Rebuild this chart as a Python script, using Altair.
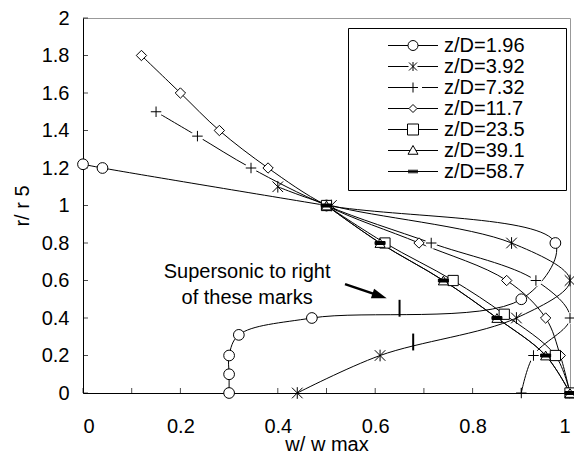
import altair as alt
import pandas as pd

# Radial profiles of axial velocity at several downstream stations
series = ["z/D=1.96", "z/D=3.92", "z/D=7.32", "z/D=11.7", "z/D=23.5", "z/D=39.1", "z/D=58.7"]

w_196 = [0.30, 0.30, 0.30, 0.32, 0.47, 0.90, 0.97, 0.50, 0.04, 0.00]
r_196 = [0.00, 0.10, 0.20, 0.31, 0.40, 0.50, 0.80, 1.00, 1.20, 1.22]

w_392 = [0.44, 0.61, 0.89, 1.00, 0.88, 0.51, 0.40]
r_392 = [0.00, 0.20, 0.40, 0.60, 0.80, 1.00, 1.10]

w_732 = [0.90, 0.925, 1.00, 0.93, 0.715, 0.50, 0.345, 0.235, 0.15]
r_732 = [0.00, 0.20, 0.40, 0.60, 0.80, 1.00, 1.20, 1.37, 1.50]

w_117 = [1.00, 0.98, 0.95, 0.87, 0.69, 0.50, 0.38, 0.28, 0.20, 0.12]
r_117 = [0.00, 0.20, 0.40, 0.60, 0.80, 1.00, 1.20, 1.40, 1.60, 1.80]

w_235 = [1.00, 0.97, 0.865, 0.76, 0.62, 0.50]
r_235 = [0.00, 0.20, 0.42, 0.60, 0.80, 1.00]

w_391 = [1.00, 0.95, 0.85, 0.74, 0.61, 0.50]
r_391 = [0.00, 0.20, 0.40, 0.60, 0.80, 1.00]

w_587 = [1.00, 0.95, 0.85, 0.74, 0.61, 0.50]
r_587 = [0.00, 0.20, 0.40, 0.60, 0.80, 1.00]

# Sonic-line marks on the two innermost profiles
sonic_w = [0.65, 0.678]
sonic_r_lo = [0.407, 0.227]
sonic_r_hi = [0.497, 0.317]

# Annotation and its arrow
note_lines = ["Supersonic to right", "of these marks"]
note_w = [0.337, 0.337]
note_r = [0.645, 0.507]
arrow_w = [0.538, 0.608]
arrow_r = [0.581, 0.519]
arrow_tip_w = [0.6236]
arrow_tip_r = [0.505]

x_ticks = [round(i * 0.1, 1) for i in range(11)]
x_labels = [round(i * 0.2, 1) for i in range(6)]
y_ticks = [round(i * 0.2, 1) for i in range(11)]

all_w = [w_196, w_392, w_732, w_117, w_235, w_391, w_587]
all_r = [r_196, r_392, r_732, r_117, r_235, r_391, r_587]

rows = []
for name, ws, rs in zip(series, all_w, all_r):
    for i, (w, r) in enumerate(zip(ws, rs)):
        rows.append({"series": name, "idx": i, "w": w, "r": r})
profiles = pd.DataFrame(rows)

FONT = "Liberation Sans"
W, H = 487, 375

xs = alt.Scale(domain=[0, 1], nice=False, zero=False)
ys = alt.Scale(domain=[0, 2], nice=False, zero=False)

# marker shapes
asterisk = "M-1,-1L1,1M-1,1L1,-1M0,-1.1V1.1"
plus = "M-1,0H1M0,-1V1"
dash = "M-1,-0.3H1V0.3H-1Z"
marker_shapes = ["circle", asterisk, plus, "diamond", "square", "triangle-up", dash]
marker_sizes = [115, 100, 110, 64, 144, 110, 110]
marker_fills = ["white", "white", "white", "white", "white", "white", "black"]

# legend glyphs: a short line with the marker in the middle
legend_glyphs = [
    "M-5,0H-1M1,0H5M-1,0A1,1,0,1,0,1,0A1,1,0,1,0,-1,0",
    "M-5,0H-0.9M0.9,0H5M-0.8,-0.8L0.8,0.8M-0.8,0.8L0.8,-0.8M0,-0.9V0.9",
    "M-5,0H1M1.8,0H5M0,-1V1",
    "M-5,0H-0.8M0.8,0H5M0,-0.8L0.8,0L0,0.8L-0.8,0Z",
    "M-5,0H-1.1M1.1,0H5M-1.1,-1.1H1.1V1.1H-1.1Z",
    "M-5,0H-0.57M0.57,0H5M0,-1L1,0.75L-1,0.75Z",
    "M-5,0H5M-1,-0.25H1M-1,0.25H1",
]

x_axis = alt.Axis(
    title="w/ w max", values=x_labels, format=".1~f", ticks=False,
    domainColor="black", labelPadding=23, titleY=51, titleBaseline="middle",
)
y_axis = alt.Axis(
    title="r/ r 5", values=y_ticks, format=".1~f", ticks=False,
    domainColor="black", labelPadding=14, titleX=-61, titleY=H / 2,
    titleAngle=-90, titleAlign="center", titleBaseline="middle",
)


def X(field):
    return alt.X(field, scale=xs, axis=x_axis)


def Y(field):
    return alt.Y(field, scale=ys, axis=y_axis)


lines = alt.Chart(profiles).mark_line(interpolate="catmull-rom", color="black").encode(
    x=X("w:Q"),
    y=Y("r:Q"),
    detail="series:N",
    order="idx:Q",
    strokeWidth=alt.StrokeWidth(
        "series:N", scale=alt.Scale(domain=series, range=[1, 1, 1, 1, 1, 1, 2.2]), legend=None
    ),
)

# inward tick marks along both axes
xt = alt.Chart(pd.DataFrame({"w": x_ticks})).mark_tick(
    orient="vertical", color="black", thickness=1, size=5
).encode(x=X("w:Q"), y=alt.value(H - 2.5))
yt = alt.Chart(pd.DataFrame({"r": y_ticks})).mark_tick(
    orient="horizontal", color="black", thickness=1, size=5
).encode(y=Y("r:Q"), x=alt.value(2.5))

# white backing behind the plus markers so the line stops short of them
halo = alt.Chart(profiles).transform_filter(
    "datum.series == 'z/D=7.32' && datum.r > 0"
).mark_point(filled=True, color="white", opacity=1, shape="circle", size=150).encode(
    x=X("w:Q"), y=Y("r:Q"),
)

points = alt.Chart(profiles).mark_point(
    filled=True, stroke="black", strokeWidth=1, opacity=1
).encode(
    x=X("w:Q"), y=Y("r:Q"),
    shape=alt.Shape("series:N", scale=alt.Scale(domain=series, range=marker_shapes), legend=None),
    size=alt.Size("series:N", scale=alt.Scale(domain=series, range=marker_sizes), legend=None),
    fill=alt.Fill("series:N", scale=alt.Scale(domain=series, range=marker_fills), legend=None),
)

sonic_df = pd.DataFrame({"w": sonic_w, "lo": sonic_r_lo, "hi": sonic_r_hi})
sonic = alt.Chart(sonic_df).mark_rule(color="black", strokeWidth=2).encode(
    x=X("w:Q"), y=Y("lo:Q"), y2="hi:Q",
)

arrow_df = pd.DataFrame({"w": [arrow_w[0]], "r": [arrow_r[0]], "w2": [arrow_w[1]], "r2": [arrow_r[1]]})
arrow_line = alt.Chart(arrow_df).mark_rule(color="black", strokeWidth=2.5).encode(
    x=X("w:Q"), y=Y("r:Q"), x2="w2:Q", y2="r2:Q",
)
tip_df = pd.DataFrame({"w": arrow_tip_w, "r": arrow_tip_r})
arrow_head = alt.Chart(tip_df).mark_point(
    shape="M0,0L1,3L-1,3Z", filled=True, color="black", opacity=1, size=100, angle=109
).encode(x=X("w:Q"), y=Y("r:Q"))

note_df = pd.DataFrame({"w": note_w, "r": note_r, "text": note_lines})
note = alt.Chart(note_df).mark_text(
    font=FONT, fontSize=20, color="black", align="center", baseline="middle"
).encode(x=X("w:Q"), y=Y("r:Q"), text="text:N")

# clipped-away layer that only carries the legend; the label gets trailing
# no-break spaces (kept by a word joiner) to widen the legend frame
key_df = pd.DataFrame({"series": series, "w": [-1.0] * len(series), "r": [-1.0] * len(series)})
key = alt.Chart(key_df).mark_point(
    clip=True, filled=False, color="black", strokeWidth=1, opacity=1
).encode(
    x=X("w:Q"), y=Y("r:Q"),
    shape=alt.Shape(
        "series:N",
        scale=alt.Scale(domain=series, range=legend_glyphs),
        legend=alt.Legend(
            title=None, orient="none", legendX=265, legendY=10, padding=8,
            fillColor="white", strokeColor="black",
            symbolSize=100, symbolStrokeWidth=1, symbolStrokeColor="black",
            symbolFillColor="white",
            symbolOffset=47, labelOffset=21, labelFontSize=20, labelFont=FONT,
            labelColor="black", clipHeight=19, rowPadding=0, labelLimit=300,
            labelExpr="datum.label + '\u00a0\u00a0\u00a0\u00a0\u00a0\u00a0\u2060'",
        ),
    ),
)

chart = alt.layer(
    lines, xt, yt, halo, points, sonic, arrow_line, arrow_head, note, key
).resolve_scale(
    shape="independent"
).properties(
    width=W, height=H,
    autosize=alt.AutoSizeParams(type="none"),
    padding={"left": 83, "top": 18, "right": 4, "bottom": 63},
).configure_view(
    stroke="#999999", strokeWidth=1
).configure_axis(
    labelFont=FONT, titleFont=FONT, labelFontSize=20, titleFontSize=20,
    titleFontWeight="normal", labelColor="black", titleColor="black", grid=False,
)

chart.save("out.html", embed_options={"renderer": "svg", "actions": False})
